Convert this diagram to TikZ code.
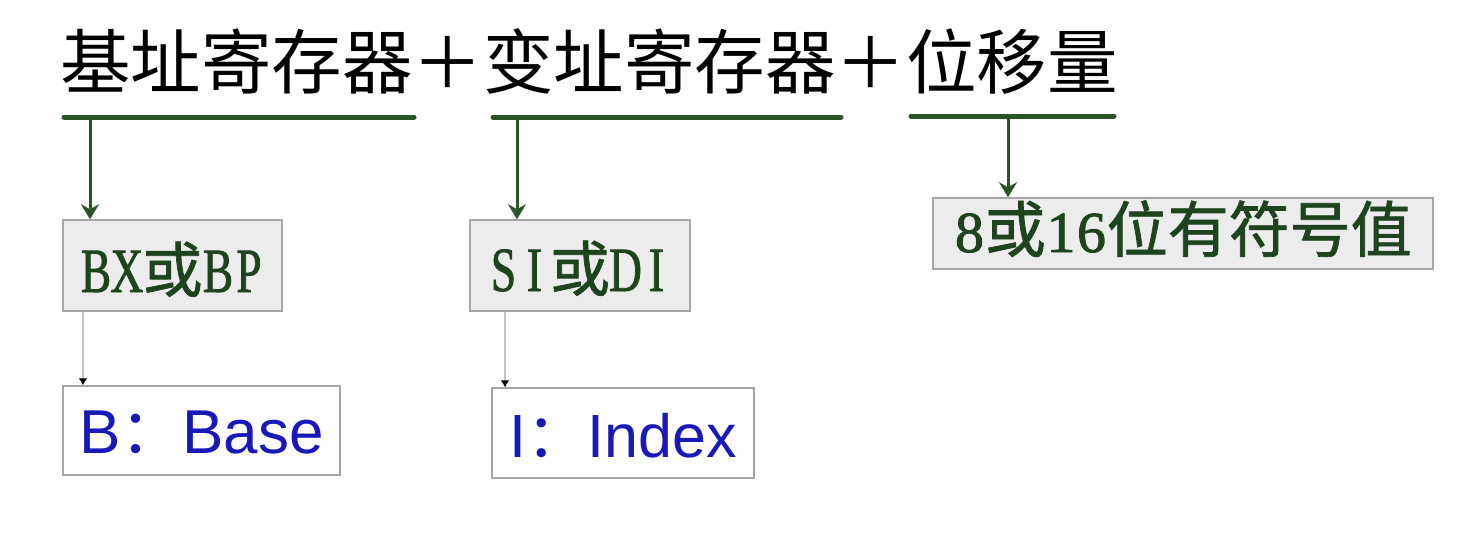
\documentclass[tikz,border=0pt]{standalone}
\usepackage{fontspec}
\usetikzlibrary{arrows.meta}
\newfontfamily\cjk{Noto Sans CJK SC}
\newfontfamily\cjkb[FakeBold=1.2]{Noto Sans CJK SC}
\newfontfamily\latserif[FakeStretch=0.72,FakeBold=1.2]{Liberation Serif}
\newfontfamily\digserif[FakeBold=1.6]{Liberation Serif}
\newfontfamily\latsans{Liberation Sans}
\definecolor{lgreen}{RGB}{40,85,35}
\definecolor{tgreen}{RGB}{30,68,30}
\definecolor{tblue}{RGB}{25,25,185}
\definecolor{boxgray}{RGB}{236,236,236}
\definecolor{edgegray}{RGB}{165,165,165}
\definecolor{linkgray}{RGB}{195,195,195}
\newcommand\hw[1]{\makebox[31pt]{\latserif\fontsize{63}{70}\selectfont #1}}
\newcommand\hd[1]{\makebox[30.5pt]{\digserif\fontsize{58}{70}\selectfont #1}}
\begin{document}
\begin{tikzpicture}[x=1pt,y=-1pt,
  gbox/.style={draw=edgegray, line width=1.5pt, fill=boxgray, inner sep=0pt, text=tgreen},
  wbox/.style={draw=edgegray, line width=1.5pt, fill=white, inner sep=0pt, text=tblue},
  uline/.style={draw=lgreen, line width=5pt, line cap=round},
  garrow/.style={draw=lgreen, line width=3pt, -{Stealth[length=15pt,width=18pt,inset=5pt,lgreen]}},
  link/.style={draw=linkgray, line width=2pt, -{Latex[length=7pt,width=9pt,black]}},
  cjkfont/.style={font=\cjk\fontsize{#1}{#1}\selectfont}
]
\fill[white] (0,0) rectangle (1472,544);
\useasboundingbox (0,0) rectangle (1472,544);

% title
\node[cjkfont=70.5, anchor=base west, inner sep=0pt, text=black] (title) at (60,88)
  {基址寄存器＋变址寄存器＋位移量};

% underlines
\coordinate (u1a) at (64,117);  \coordinate (u1b) at (414,117);
\coordinate (u2a) at (493,117); \coordinate (u2b) at (841,117);
\coordinate (u3a) at (911,116); \coordinate (u3b) at (1114,116);
\draw[uline] (u1a) -- (u1b);
\draw[uline] (u2a) -- (u2b);
\draw[uline] (u3a) -- (u3b);

% boxes
\node[gbox, minimum width=219pt, text height=72pt, text depth=19pt] (b1) at (172.5,265.5)
  {\hw{B}\hw{X}{\cjkb\fontsize{60}{60}\selectfont 或}\hw{B}\hw{P}};
\node[gbox, minimum width=220pt, text height=71pt, text depth=20pt] (b2) at (580,265.5)
  {\hw{S}\hw{I}{\cjkb\fontsize{60}{60}\selectfont 或}\hw{D}\hw{I}};
\node[gbox, minimum width=500pt, text height=54pt, text depth=17pt] (b3) at (1183,233.5)
  {\hd{8}{\cjkb\fontsize{61}{61}\selectfont 或}\hd{1}\hd{6}{\cjkb\fontsize{61}{61}\selectfont 位有符号值}};
\node[wbox, minimum width=277pt, text height=67pt, text depth=22pt] (b4) at (201.5,430.5)
  {\latsans\fontsize{62}{62}\selectfont B{\cjk ：}Base};
\node[wbox, minimum width=262pt, text height=69pt, text depth=21pt] (b5) at (623,433)
  {\latsans\fontsize{61}{61}\selectfont I{\cjk ：}Index};

% green arrows
\coordinate (a1) at (90,117);
\coordinate (a2) at (517,117);
\coordinate (a3) at (1008,116);
\draw[garrow] (a1) -- (a1 |- b1.north);
\draw[garrow] (a2) -- (a2 |- b2.north);
\draw[garrow] (a3) -- (a3 |- b3.north);

% gray links
\coordinate (g1) at (83,0);
\coordinate (g2) at (505,0);
\draw[link] (g1 |- b1.south) -- (g1 |- b4.north);
\draw[link] (g2 |- b2.south) -- (g2 |- b5.north);
\end{tikzpicture}
\end{document}
